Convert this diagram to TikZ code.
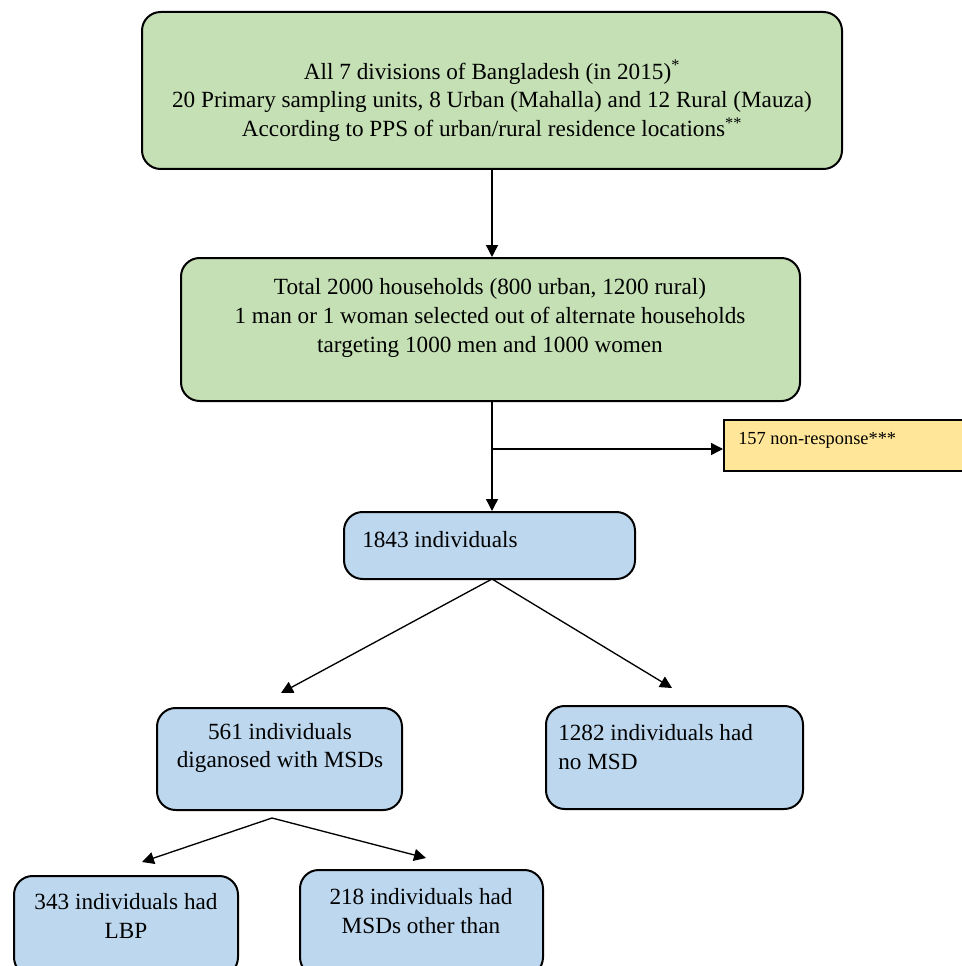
\documentclass[tikz,border=0pt]{standalone}
\usepackage{fontspec}
\setmainfont{Liberation Serif}
\usetikzlibrary{arrows.meta}
\definecolor{gfill}{RGB}{197,224,180}
\definecolor{bfill}{RGB}{189,215,238}
\definecolor{yfill}{RGB}{255,230,153}
\begin{document}
\begin{tikzpicture}[x=0.75pt,y=-0.75pt,
  box/.style={draw=black, line width=1.5pt, rounded corners=14pt, inner sep=0pt},
  gbox/.style={box, fill=gfill},
  bbox/.style={box, fill=bfill},
  ybox/.style={draw=black, line width=1.5pt, fill=yfill, inner sep=0pt},
  txt/.style={font=\fontsize{17.4}{21.6}\selectfont, align=center, inner sep=0pt},
  ltxt/.style={font=\fontsize{17.4}{21.6}\selectfont, align=left, inner sep=0pt, anchor=west},
  arr/.style={line width=1pt, -{Triangle[length=9pt,width=9pt]}},
  ln/.style={line width=1pt}]
\useasboundingbox (0,0) rectangle (962,966);
% boxes
\node[gbox, minimum width=525pt, minimum height=117.75pt] (b1) at (492,90.5) {};
\node[gbox, minimum width=464.25pt, minimum height=107.25pt] (b2) at (490.5,329.5) {};
\node[ybox, minimum width=189pt, minimum height=38.25pt] (ny) at (850,445.5) {};
\node[bbox, minimum width=218.25pt, minimum height=50.25pt] (b3) at (489.5,545.5) {};
\node[bbox, minimum width=183.75pt, minimum height=76.5pt] (b4) at (279.5,759) {};
\node[bbox, minimum width=192.75pt, minimum height=77.25pt] (b5) at (674.5,757.5) {};
\node[bbox, minimum width=168pt, minimum height=75pt] (b6) at (126,926) {};
\node[bbox, minimum width=182.25pt, minimum height=79.5pt] (b7) at (421.5,923) {};
% texts
\node[txt] (t1) at (492,101) {All 7 divisions of Bangladesh (in 2015)\textsuperscript{*}\\20 Primary sampling units, 8 Urban (Mahalla) and 12 Rural (Mauza)\\According to PPS of urban/rural residence locations\textsuperscript{**}};
\node[txt] (t2) at (490,318) {Total 2000 households (800 urban, 1200 rural)\\1 man or 1 woman selected out of alternate households\\targeting 1000 men and 1000 women};
\node[ltxt, font=\fontsize{13.8}{16}\selectfont] (t3) at (738,440) {157 non-response***};
\node[ltxt] (t4) at (362,540) {1843 individuals};
\node[txt] (t5) at (280,748) {561 individuals\\diganosed with MSDs};
\node[ltxt] (t6) at (558,747) {1282 individuals had\\no MSD};
\node[txt] (t7) at (126,916) {343 individuals had\\LBP};
\node[txt] (t8) at (421,911) {218 individuals had\\MSDs other than};
% connectors
\coordinate (br) at (492,449);
\draw[arr] (b1.south) -- (b1.south |- b2.north);
\draw[arr] (b1.south |- b2.south) -- (b1.south |- b3.north);
\draw[arr] (br) -- (br -| ny.west);
\coordinate (s3) at (492,579);
\coordinate (e3a) at (281,693);
\coordinate (e3b) at (672,688);
\draw[arr] (s3) -- (e3a);
\draw[arr] (s3) -- (e3b);
\coordinate (s4) at (272,818);
\coordinate (e4a) at (142,862);
\coordinate (e4b) at (426,858);
\draw[arr] (s4) -- (e4a);
\draw[arr] (s4) -- (e4b);
\end{tikzpicture}
\end{document}
